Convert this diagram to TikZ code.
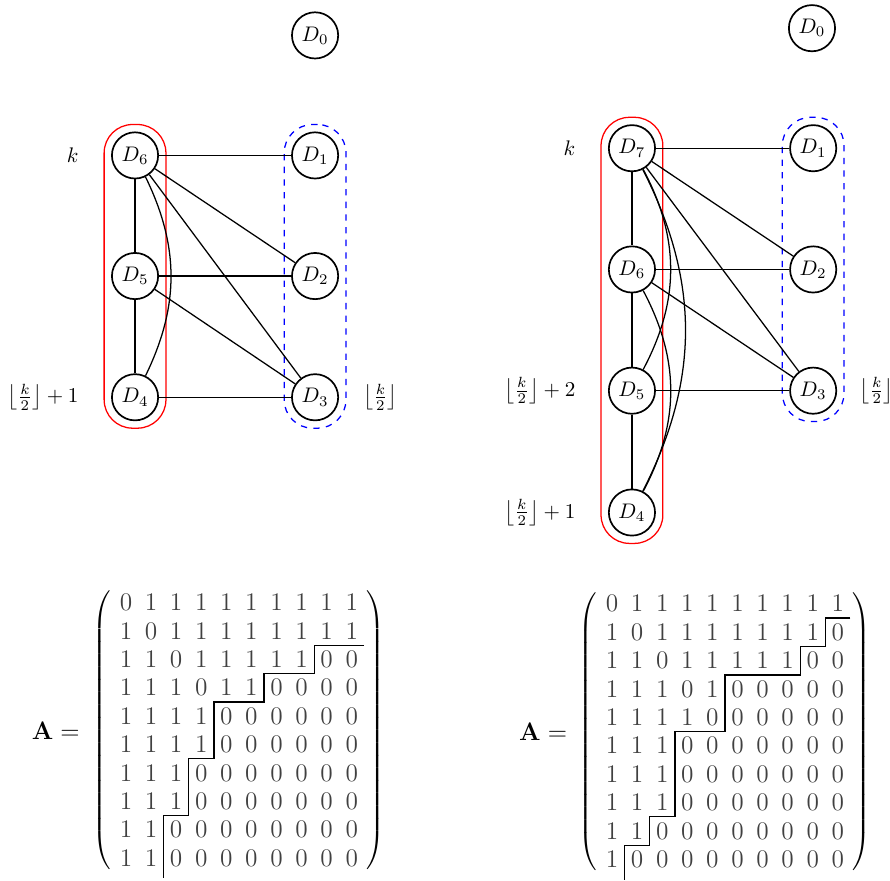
\documentclass[tikz,border=0pt]{standalone}
\usepackage{amsmath,amssymb}
\usepackage{tikz}
\usetikzlibrary{arrows.meta,calc,positioning,matrix,fit}

\begin{document}
\begin{tikzpicture}[>=Stealth]
  \tikzset{
    dnode/.style={
      circle,
      draw,
      thick,
      minimum size=0.77cm,
      inner sep=1pt
    },
    dedge/.style={semithick},
    bigset/.style={
      draw=red,
      semithick,
      rounded corners=13.5pt,
      inner sep=3.3pt
    },
    smallset/.style={
      draw=blue,
      semithick,
      dashed,
      rounded corners=13.5pt,
      inner sep=3.3pt
    },
    adjmat/.style={
      matrix of math nodes,
      inner sep=0pt,
      column sep=0.018cm,
      row sep=0.018cm,
      left delimiter=(,
      right delimiter=),
      every left delimiter/.style={xshift=1.5pt},
      every right delimiter/.style={xshift=-1pt},
      font=\large,
      nodes={inner sep=0pt,minimum width=0.40cm,minimum height=0.455cm,anchor=center,font=\large,text=black!75}
    },
    stair/.style={semithick}
  }
  \path[use as bounding box] (0,0) rectangle (14.83,14.67);

  % left graph
  \node[dnode] (a0) at (5.25,14.08) {$D_0$};
  \node[dnode] (a6) at (2.25,12.08) {$D_6$};
  \node[dnode] (a5) at (2.25,10.07) {$D_5$};
  \node[dnode] (a4) at (2.25,8.05) {$D_4$};
  \node[dnode] (a1) at (5.25,12.08) {$D_1$};
  \node[dnode] (a2) at (5.25,10.07) {$D_2$};
  \node[dnode] (a3) at (5.25,8.05) {$D_3$};
  \node[bigset,fit=(a6)(a4)] (ared) {};
  \node[smallset,fit=(a1)(a3)] (ablue) {};
  \draw[dedge] (a6) -- (a1);
  \draw[dedge] (a6) -- (a5);
  \draw[dedge] (a5) -- (a4);
  \draw[dedge] (a6) -- (a2);
  \draw[dedge] (a6) -- (a3);
  \draw[dedge] (a5) -- (a2);
  \draw[dedge] (a5) -- (a3);
  \draw[dedge] (a4) -- (a3);
  \draw[dedge] (a6) to[bend left=26] (a4);
  \node[left=0.42cm of a6] (ak) {$k$};
  \node[left=0.42cm of a4] (ahalf1) {$\left\lfloor\frac{k}{2}\right\rfloor+1$};
  \node[right=0.28cm of a3] (ahalf) {$\left\lfloor\frac{k}{2}\right\rfloor$};

  % right graph
  \node[dnode] (b0) at (13.53,14.20) {$D_0$};
  \node[dnode] (b7) at (10.53,12.20) {$D_7$};
  \node[dnode] (b6) at (10.53,10.18) {$D_6$};
  \node[dnode] (b5) at (10.53,8.16) {$D_5$};
  \node[dnode] (b4) at (10.53,6.13) {$D_4$};
  \node[dnode] (b1) at (13.55,12.20) {$D_1$};
  \node[dnode] (b2) at (13.55,10.18) {$D_2$};
  \node[dnode] (b3) at (13.55,8.16) {$D_3$};
  \node[bigset,fit=(b7)(b4)] (bred) {};
  \node[smallset,fit=(b1)(b3)] (bblue) {};
  \draw[dedge] (b7) -- (b1);
  \draw[dedge] (b7) -- (b6);
  \draw[dedge] (b6) -- (b5);
  \draw[dedge] (b5) -- (b4);
  \draw[dedge] (b7) -- (b2);
  \draw[dedge] (b7) -- (b3);
  \draw[dedge] (b6) -- (b2);
  \draw[dedge] (b6) -- (b3);
  \draw[dedge] (b5) -- (b3);
  \draw[dedge] (b7) to[bend left=28] (b5);
  \draw[dedge] (b7) to[bend left=27] (b4);
  \draw[dedge] (b6) to[bend left=28] (b4);
  \node[left=0.42cm of b7] (bk) {$k$};
  \node[left=0.42cm of b5] (bhalf2) {$\left\lfloor\frac{k}{2}\right\rfloor+2$};
  \node[left=0.42cm of b4] (bhalf1) {$\left\lfloor\frac{k}{2}\right\rfloor+1$};
  \node[right=0.25cm of b3] (bhalf) {$\left\lfloor\frac{k}{2}\right\rfloor$};

  % adjacency matrices
  \node (aA) at (0.93,2.50) {\large$\mathbf{A} =$};
  \matrix (mA) [adjmat] at (3.98,2.50) {
    0 & 1 & 1 & 1 & 1 & 1 & 1 & 1 & 1 & 1 \\
    1 & 0 & 1 & 1 & 1 & 1 & 1 & 1 & 1 & 1 \\
    1 & 1 & 0 & 1 & 1 & 1 & 1 & 1 & 0 & 0 \\
    1 & 1 & 1 & 0 & 1 & 1 & 0 & 0 & 0 & 0 \\
    1 & 1 & 1 & 1 & 0 & 0 & 0 & 0 & 0 & 0 \\
    1 & 1 & 1 & 1 & 0 & 0 & 0 & 0 & 0 & 0 \\
    1 & 1 & 1 & 0 & 0 & 0 & 0 & 0 & 0 & 0 \\
    1 & 1 & 1 & 0 & 0 & 0 & 0 & 0 & 0 & 0 \\
    1 & 1 & 0 & 0 & 0 & 0 & 0 & 0 & 0 & 0 \\
    1 & 1 & 0 & 0 & 0 & 0 & 0 & 0 & 0 & 0 \\
  };
  \draw[stair] (mA-3-10.north east) -- (mA-3-9.north west) -- (mA-4-9.north west)
    -- (mA-4-7.north west) -- (mA-5-7.north west) -- (mA-5-5.north west)
    -- (mA-7-5.north west) -- (mA-7-4.north west) -- (mA-9-4.north west)
    -- (mA-9-3.north west) -- ([yshift=-3pt]mA-10-3.south west);

  \node (bA) at (9.05,2.48) {\large$\mathbf{A} =$};
  \matrix (mB) [adjmat] at (12.08,2.48) {
    0 & 1 & 1 & 1 & 1 & 1 & 1 & 1 & 1 & 1 \\
    1 & 0 & 1 & 1 & 1 & 1 & 1 & 1 & 1 & 0 \\
    1 & 1 & 0 & 1 & 1 & 1 & 1 & 1 & 0 & 0 \\
    1 & 1 & 1 & 0 & 1 & 0 & 0 & 0 & 0 & 0 \\
    1 & 1 & 1 & 1 & 0 & 0 & 0 & 0 & 0 & 0 \\
    1 & 1 & 1 & 0 & 0 & 0 & 0 & 0 & 0 & 0 \\
    1 & 1 & 1 & 0 & 0 & 0 & 0 & 0 & 0 & 0 \\
    1 & 1 & 1 & 0 & 0 & 0 & 0 & 0 & 0 & 0 \\
    1 & 1 & 0 & 0 & 0 & 0 & 0 & 0 & 0 & 0 \\
    1 & 0 & 0 & 0 & 0 & 0 & 0 & 0 & 0 & 0 \\
  };
  \draw[stair] (mB-2-10.north east) -- (mB-2-10.north west) -- (mB-3-10.north west)
    -- (mB-3-9.north west) -- (mB-4-9.north west) -- (mB-4-6.north west)
    -- (mB-6-6.north west) -- (mB-6-4.north west) -- (mB-9-4.north west)
    -- (mB-9-3.north west) -- (mB-10-3.north west) -- (mB-10-2.north west)
    -- ([yshift=-3pt]mB-10-2.south west);
\end{tikzpicture}
\end{document}
